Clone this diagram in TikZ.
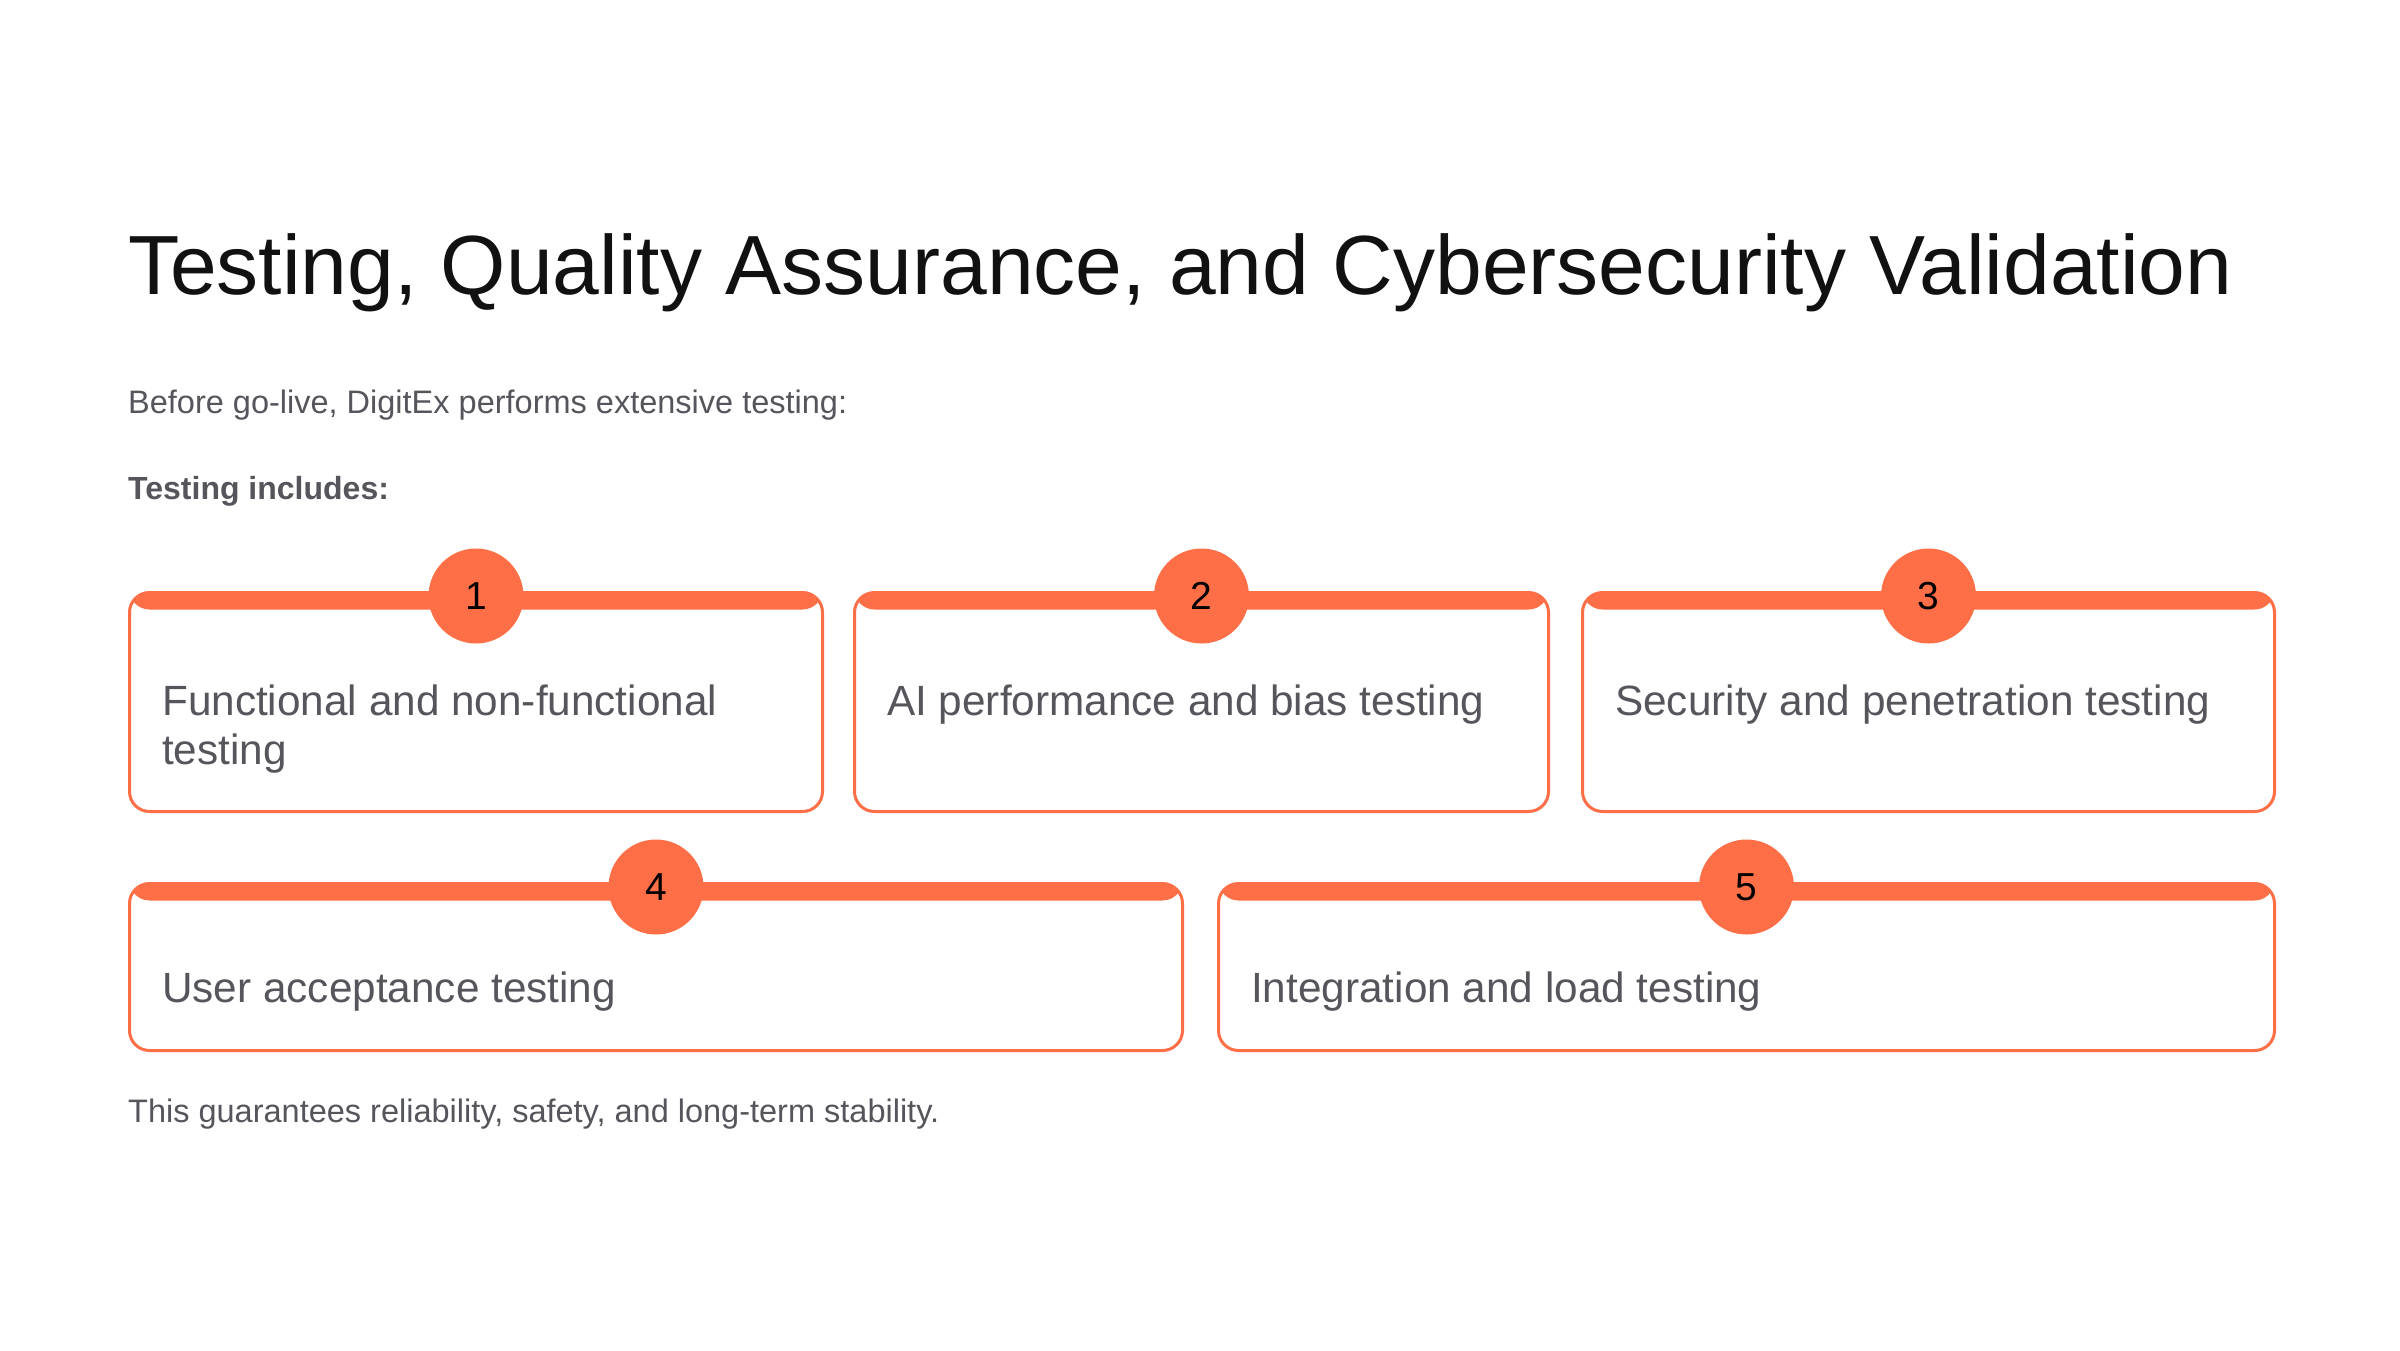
\documentclass[tikz,border=0pt]{standalone}
\usepackage{fontspec}
\setmainfont{Liberation Sans}
\definecolor{accent}{HTML}{FF6F47}
\definecolor{bodygray}{HTML}{55555C}
\definecolor{titleblack}{HTML}{111111}
\begin{document}
\begin{tikzpicture}[x=1pt,y=-1pt,
  card/.style={draw=accent, line width=3pt, rounded corners=20pt, anchor=north west, inner sep=0pt,
    path picture={\fill[accent] (path picture bounding box.north west) rectangle ([yshift=-17pt]path picture bounding box.north east);}},
  badge/.style={circle, fill=accent, minimum size=95pt, inner sep=0pt, text=black,
    font=\fontsize{39}{39}\selectfont},
  cardtext/.style={anchor=base west, inner sep=0pt, text=bodygray, align=left,
    font=\fontsize{42.3}{49}\selectfont},
  bodytext/.style={anchor=base west, inner sep=0pt, text=bodygray, font=\fontsize{32.5}{36}\selectfont},
]
\useasboundingbox[fill=white] (0,0) rectangle (2400,1350);

\node[anchor=base west, inner sep=0pt, text=titleblack, font=\fontsize{84}{95}\selectfont] (title) at (128,294)
  {Testing, Quality Assurance, and Cybersecurity Validation};
\node[bodytext] (intro) at (128,413) {Before go-live, DigitEx performs extensive testing:};
\node[bodytext, font=\fontsize{32}{36}\selectfont\bfseries] (incl) at (128,499) {Testing includes:};

% row 1
\node[card, minimum width=693pt, minimum height=219pt] (c1) at (128,591) {};
\node[card, minimum width=694pt, minimum height=219pt] (c2) at (853,591) {};
\node[card, minimum width=692pt, minimum height=219pt] (c3) at (1581,591) {};
% row 2
\node[card, minimum width=1053pt, minimum height=167pt] (c4) at (128,882) {};
\node[card, minimum width=1056pt, minimum height=167pt] (c5) at (1217,882) {};

\foreach \c/\n in {c1/1,c2/2,c3/3,c4/4,c5/5}{
  \node[badge] (b\n) at ([yshift=-5pt]\c.north) {\n};
}

\node[cardtext] (t1) at ([xshift=34pt,yshift=-173pt]c1.north west) {Functional and non-functional\\testing};
\node[cardtext] (t2) at ([xshift=34pt,yshift=-124pt]c2.north west) {AI performance and bias testing};
\node[cardtext] (t3) at ([xshift=34pt,yshift=-124pt]c3.north west) {Security and penetration testing};
\node[cardtext] (t4) at ([xshift=34pt,yshift=-120pt]c4.north west) {User acceptance testing};
\node[cardtext] (t5) at ([xshift=34pt,yshift=-120pt]c5.north west) {Integration and load testing};

\node[bodytext] (foot) at (128,1122) {This guarantees reliability, safety, and long-term stability.};
\end{tikzpicture}
\end{document}
